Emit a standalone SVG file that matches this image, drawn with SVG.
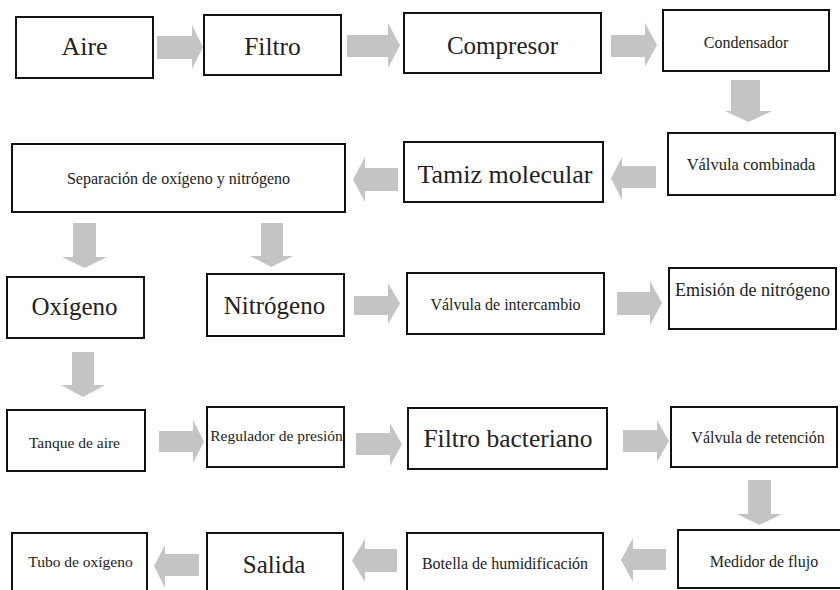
<svg xmlns="http://www.w3.org/2000/svg" width="840" height="590" viewBox="0 0 840 590">
<style>
.box{fill:#fff;stroke:#111;stroke-width:2}
.arr{fill:#c4c4c4;stroke:none}
.t{font-family:'Liberation Serif','Times New Roman','DejaVu Serif',serif;fill:#222;text-anchor:middle}
</style>
<rect width="840" height="590" fill="#fff"/>
<g id="connectors">
<polygon class="arr" points="157,36 192,36 192,25 203,47 192,69 192,59 157,59"/>
<polygon class="arr" points="347,35 388,35 388,23 400,45.5 388,68 388,57 347,57"/>
<polygon class="arr" points="611,35 645,35 645,23 657,45 645,67 645,57 611,57"/>
<polygon class="arr" points="731,80 760,80 760,111 772,111 748.5,122 725,111 731,111"/>
<polygon class="arr" points="656,166 622,166 622,157 611,178.5 622,200 622,188 656,188"/>
<polygon class="arr" points="398,168 365,168 365,157 353,179.5 365,202 365,191 398,191"/>
<polygon class="arr" points="73,223 96,223 96,257 107,257 84.5,268 62,257 73,257"/>
<polygon class="arr" points="261,223 283,223 283,256 293,256 271.5,267 250,256 261,256"/>
<polygon class="arr" points="354,296 388,296 388,283 400,303.5 388,324 388,315 354,315"/>
<polygon class="arr" points="617,292 650,292 650,281 662,303 650,325 650,315 617,315"/>
<polygon class="arr" points="72,352 94,352 94,385 105,385 83,397 61,385 72,385"/>
<polygon class="arr" points="159,431 193,431 193,420 204,441.5 193,463 193,452 159,452"/>
<polygon class="arr" points="356,433 390,433 390,423 402,444.5 390,466 390,455 356,455"/>
<polygon class="arr" points="623,430 657,430 657,420 669,441 657,462 657,452 623,452"/>
<polygon class="arr" points="748,480 771,480 771,514 782,514 759.5,525 737,514 748,514"/>
<polygon class="arr" points="666,549 633,549 633,538 621,560 633,582 633,570 666,570"/>
<polygon class="arr" points="397,549 365,549 365,539 352,560.5 365,582 365,572 397,572"/>
<polygon class="arr" points="199,554 165,554 165,545 154,566 165,588 165,576 199,576"/>
</g>
<g id="aire"><rect class="box" x="16" y="17" width="137" height="61"/><text class="t" x="84.5" y="55" font-size="26">Aire</text></g>
<g id="filtro"><rect class="box" x="204" y="15" width="137" height="60"/><text class="t" x="272.5" y="55" font-size="25.5">Filtro</text></g>
<g id="compresor"><rect class="box" x="404" y="13" width="197" height="60"/><text class="t" x="502.5" y="54" font-size="25">Compresor</text></g>
<g id="condensador"><rect class="box" x="663" y="10" width="166" height="61"/><text class="t" x="746" y="48" font-size="16">Condensador</text></g>
<g id="valvula-combinada"><rect class="box" x="668" y="133" width="167" height="62"/><text class="t" x="751" y="170" font-size="16.5">Válvula combinada</text></g>
<g id="tamiz"><rect class="box" x="404" y="142" width="199" height="60"/><text class="t" x="505" y="183" font-size="26">Tamiz molecular</text></g>
<g id="separacion"><rect class="box" x="12" y="144" width="333" height="68"/><text class="t" x="178.5" y="184" font-size="16">Separación de oxígeno y nitrógeno</text></g>
<g id="oxigeno"><rect class="box" x="7" y="277" width="137" height="61"/><text class="t" x="74.5" y="315" font-size="25">Oxígeno</text></g>
<g id="nitrogeno"><rect class="box" x="207" y="274" width="137" height="62"/><text class="t" x="274.5" y="314" font-size="25">Nitrógeno</text></g>
<g id="valvula-intercambio"><rect class="box" x="407" y="273" width="197" height="61"/><text class="t" x="505.5" y="310" font-size="16">Válvula de intercambio</text></g>
<g id="emision"><rect class="box" x="669" y="268" width="167" height="61"/><text class="t" x="752.5" y="296" font-size="18">Emisión de nitrógeno</text></g>
<g id="tanque"><rect class="box" x="7" y="410" width="138" height="61"/><text class="t" x="74.5" y="448" font-size="15.5">Tanque de aire</text></g>
<g id="regulador"><rect class="box" x="207" y="407" width="137" height="60"/><text class="t" x="276.5" y="441" font-size="15.5">Regulador de presión</text></g>
<g id="filtro-bacteriano"><rect class="box" x="408" y="408" width="199" height="61"/><text class="t" x="508" y="447" font-size="25.5">Filtro bacteriano</text></g>
<g id="valvula-retencion"><rect class="box" x="671" y="407" width="166" height="60"/><text class="t" x="758" y="443" font-size="16">Válvula de retención</text></g>
<g id="medidor"><rect class="box" x="678" y="530" width="164" height="58"/><text class="t" x="764" y="567" font-size="16">Medidor de flujo</text></g>
<g id="botella"><rect class="box" x="407" y="533" width="196" height="62"/><text class="t" x="505" y="569" font-size="16">Botella de humidificación</text></g>
<g id="salida"><rect class="box" x="207" y="533" width="136" height="62"/><text class="t" x="274" y="573" font-size="25">Salida</text></g>
<g id="tubo"><rect class="box" x="12" y="533" width="135" height="62"/><text class="t" x="80.5" y="567" font-size="15.5">Tubo de oxígeno</text></g>
</svg>
